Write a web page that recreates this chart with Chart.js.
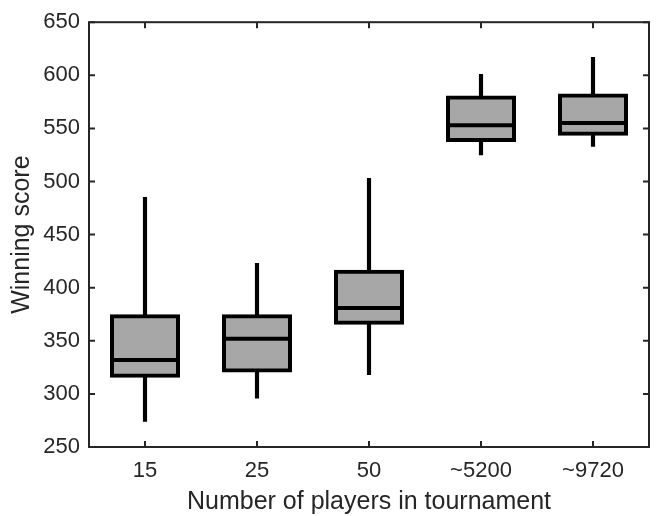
<!DOCTYPE html>
<html>
<head>
<meta charset="utf-8">
<script src="https://cdn.jsdelivr.net/npm/chart.js@4"></script>
<style>
  html, body { margin: 0; padding: 0; background: #fff; }
  #wrap { width: 658px; height: 516px; }
</style>
</head>
<body>
<div id="wrap"><canvas id="box"></canvas></div>
<script>
// box plot values
var categories = ['15', '25', '50', '~5200', '~9720'];
var whiskerLow  = [274, 296, 318, 525, 533];
var quart1      = [317, 322, 367, 539, 545];
var medians     = [332, 352, 381, 553, 555];
var quart3      = [373, 373, 415, 579, 581];
var whiskerHigh = [485, 423, 503, 601, 617];
var yTicks = [250, 300, 350, 400, 450, 500, 550, 600, 650];

var axisColor = '#262626';

var boxes = [], whiskers = [];
for (var i = 0; i < categories.length; i++) {
  boxes.push([quart1[i], quart3[i]]);
  whiskers.push([whiskerLow[i], whiskerHigh[i]]);
}

// matlab style frame: full box with inward ticks on every side
var framePlugin = {
  id: 'frame',
  afterDraw: function(chart) {
    var ctx = chart.ctx, a = chart.chartArea;
    var xs = chart.scales.x, ys = chart.scales.y;
    var tl = 6;
    ctx.save();
    ctx.strokeStyle = axisColor;
    ctx.lineWidth = 2;
    ctx.beginPath();
    for (var i = 0; i < xs.ticks.length; i++) {
      var px = xs.getPixelForTick(i);
      ctx.moveTo(px, a.bottom); ctx.lineTo(px, a.bottom - tl);
      ctx.moveTo(px, a.top); ctx.lineTo(px, a.top + tl);
    }
    for (var j = 0; j < ys.ticks.length; j++) {
      var py = ys.getPixelForTick(j);
      ctx.moveTo(a.left, py); ctx.lineTo(a.left + tl, py);
      ctx.moveTo(a.right, py); ctx.lineTo(a.right - tl, py);
    }
    ctx.stroke();
    ctx.strokeRect(a.left, a.top, a.right - a.left, a.bottom - a.top);
    ctx.restore();
  }
};

var ctx = document.getElementById('box').getContext('2d');
var chart = new Chart(ctx, {
  type: 'bar',
  data: {
    labels: categories,
    datasets: [
      {
        type: 'line',
        label: 'median',
        data: medians,
        showLine: false,
        pointStyle: 'line',
        pointRadius: 33,
        pointBorderWidth: 4,
        pointBorderColor: '#000',
        pointBackgroundColor: '#000',
        order: 0
      },
      {
        label: 'box',
        data: boxes,
        backgroundColor: '#a7a7a7',
        borderColor: '#000',
        borderWidth: 4,
        borderSkipped: false,
        inflateAmount: 2,
        barPercentage: 66 / 112,
        categoryPercentage: 1,
        grouped: false,
        order: 1
      },
      {
        label: 'whisker',
        data: whiskers,
        backgroundColor: '#000',
        borderWidth: 0,
        barThickness: 3.5,
        grouped: false,
        order: 2
      }
    ]
  },
  options: {
    responsive: true,
    maintainAspectRatio: false,
    animation: false,
    events: [],
    layout: { autoPadding: false, padding: { top: 14, right: 9, left: 0, bottom: 0 } },
    plugins: {
      legend: { display: false },
      tooltip: { enabled: false }
    },
    scales: {
      x: {
        offset: true,
        grid: { display: false, drawTicks: false },
        border: { display: false },
        ticks: {
          color: axisColor,
          padding: 11,
          maxRotation: 0,
          font: { family: 'Liberation Sans', size: 22 }
        },
        title: {
          display: true,
          text: 'Number of players in tournament',
          color: axisColor,
          padding: { top: 0, bottom: 0 },
          font: { family: 'Liberation Sans', size: 25, lineHeight: 1.1 }
        },
        afterFit: function(scale) { scale.height = 69; }
      },
      y: {
        min: 250,
        max: 650,
        afterBuildTicks: function(scale) {
          scale.ticks = yTicks.map(function(v) { return { value: v }; });
        },
        grid: { display: false, drawTicks: false },
        border: { display: false },
        ticks: {
          color: axisColor,
          padding: 9,
          font: { family: 'Liberation Sans', size: 22 }
        },
        title: {
          display: true,
          text: 'Winning score',
          color: axisColor,
          padding: { top: 7, bottom: 0 },
          font: { family: 'Liberation Sans', size: 25 }
        },
        afterFit: function(scale) { scale.width = 89; }
      }
    }
  },
  plugins: [framePlugin]
});
</script>
</body>
</html>
